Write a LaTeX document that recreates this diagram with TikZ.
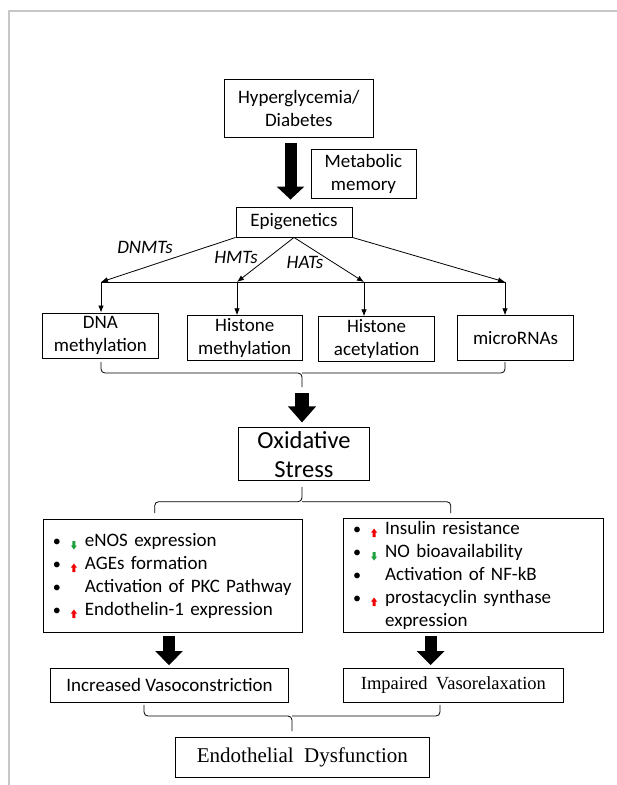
\documentclass[tikz,border=0pt]{standalone}
\usepackage{fontspec}
\setmainfont{Carlito}
\newfontfamily\tnr{Liberation Serif}
\usetikzlibrary{arrows.meta}

\definecolor{upred}{RGB}{240,0,0}
\definecolor{dngreen}{RGB}{30,160,60}

% small coloured arrows in the lists
\newcommand\uparr{\tikz[baseline=2.5pt,x=1pt,y=1pt]\fill[upred] (-1.4,0) -- (-1.4,4.5) -- (-3,4.5) -- (0,8.5) -- (3,4.5) -- (1.4,4.5) -- (1.4,0) -- cycle;}
\newcommand\dnarr{\tikz[baseline=3pt,x=1pt,y=1pt]\fill[dngreen] (-1.4,8.5) -- (-1.4,4) -- (-3,4) -- (0,0) -- (3,4) -- (1.4,4) -- (1.4,8.5) -- cycle;}
\newcommand\li[2]{\makebox[14pt]{\scalebox{.85}{•}}\hspace{3pt}\makebox[14pt]{#1}\hspace{4pt}#2}

\begin{document}
\begin{tikzpicture}[x=1pt, y=-1pt, >={Latex[length=7pt,width=5.5pt]},
	box/.style={draw, line width=.9pt, inner sep=0pt, align=center, font=\fontsize{19}{23}\selectfont},
	lst/.style={box, align=left, inner xsep=6.5pt},
	fat/.style={line width=12pt, -{Triangle[length=13pt,width=27pt]}},
	brace/.style={line width=.8pt, rounded corners=4pt},
	lab/.style={font=\fontsize{19}{23}\selectfont\itshape}]
	\useasboundingbox (0,0) rectangle (617,785);
	\draw[black!22, line width=1.4pt] (617,11) -- (9,11) -- (9,785);

	\node[box, minimum width=149pt, minimum height=58pt] (hyper) at (298.8,108) {Hyperglycemia/\\Diabetes};
	\node[box, minimum width=105pt, minimum height=49pt] (memory) at (363.5,173.5) {Metabolic\\memory};
	\node[box, minimum width=116pt, minimum height=30pt] (epi) at (294,222) {Epigenetics};

	\node[box, minimum width=116pt, minimum height=45pt] (dna) at (100.4,335.5) {DNA\\methylation};
	\node[box, minimum width=115.5pt, minimum height=44.5pt] (hmeth) at (244.7,338) {Histone\\methylation};
	\node[box, minimum width=115.5pt, minimum height=44.5pt] (hacet) at (376.6,339) {Histone\\acetylation};
	\node[box, minimum width=116pt, minimum height=44.5pt] (mirna) at (515.5,338) {microRNAs};

	\node[box, minimum width=131pt, minimum height=53pt, font=\fontsize{24.5}{29}\selectfont] (ox) at (304,454.4) {Oxidative\\Stress};

	\node[lst, text width=246pt, minimum height=113.4pt] (left) at (172.9,576) {%
		\li{\dnarr}{eNOS expression}\\
		\li{\uparr}{AGEs formation}\\
		\li{}{Activation of PKC Pathway}\\
		\li{\uparr}{Endothelin-1 expression}};
	\node[lst, text width=247pt, minimum height=114.4pt] (right) at (473.6,575.5) {%
		\li{\uparr}{Insulin resistance}\\
		\li{\dnarr}{NO bioavailability}\\
		\li{}{Activation of NF-kB}\\
		\li{\uparr}{prostacyclin synthase}\\
		\hspace*{35pt}expression};

	\node[box, minimum width=237.4pt, minimum height=34pt] (vasoc) at (169.5,685) {Increased Vasoconstriction};
	\node[box, minimum width=219.3pt, minimum height=34pt, font=\tnr\fontsize{18.5}{22}\selectfont] (vasor) at (453.4,685) {Impaired\hspace{.45em}Vasorelaxation};
	\node[box, minimum width=253.5pt, minimum height=40pt, font=\tnr\fontsize{21}{25}\selectfont] (endo) at (302.4,757.7) {Endothelial\hspace{.5em}Dysfunction};

	% fat arrows
	\draw[fat, shorten <=6pt, shorten >=7pt] (hyper.south -| 290.5,0) -- (epi.north -| 290.5,0);
	\coordinate (tip1) at (302,387);
	\draw[fat, line width=14pt, -{Triangle[length=16pt,width=27pt]}, shorten <=6pt, shorten >=5pt] (tip1) -- (tip1 |- ox.north);
	\draw[fat, -{Triangle[length=14pt,width=27pt]}, shorten <=2.5pt, shorten >=2.5pt] (left.south -| 169,0) -- (vasoc.north -| 169,0);
	\draw[fat, -{Triangle[length=14pt,width=27pt]}, shorten <=2.5pt, shorten >=2.5pt] (right.south -| 430.7,0) -- (vasor.north -| 430.7,0);

	% epigenetic branches
	\coordinate (b1) at (101,282);
	\coordinate (b2) at (237,282);
	\coordinate (b3) at (364,282);
	\coordinate (b4) at (505,282);
	\draw[line width=.8pt, ->] (epi.south west) -- (b1);
	\draw[line width=.8pt, ->] (epi.south) -- (b2);
	\draw[line width=.8pt, ->] (epi.south) -- (b3);
	\draw[line width=.8pt, ->] (epi.south east) -- (b4);
	\draw[line width=.8pt] (b1) -- (b4);
	\foreach \b/\n in {b1/dna, b2/hmeth, b3/hacet, b4/mirna}
		\draw[line width=.8pt, ->] (\b) -- (\b |- \n.north);
	\node[lab] (dnmts) at (145,247) {DNMTs};
	\node[lab] (hmts) at (236,257.3) {HMTs};
	\node[lab] (hats) at (305,262.3) {HATs};

	% braces
	\draw[brace] (101,362) |- (302,373) -- (tip1);
	\draw[brace] (505,362) |- (302,373);
	\draw[brace] (302,487) -- (302,501.7) -| (154.7,513);
	\draw[brace] (302,501.7) -| (450.8,513);
	\draw[brace] (144,705) |- (292,716) -- (292,731);
	\draw[brace] (440,705) |- (292,716);
\end{tikzpicture}
\end{document}
